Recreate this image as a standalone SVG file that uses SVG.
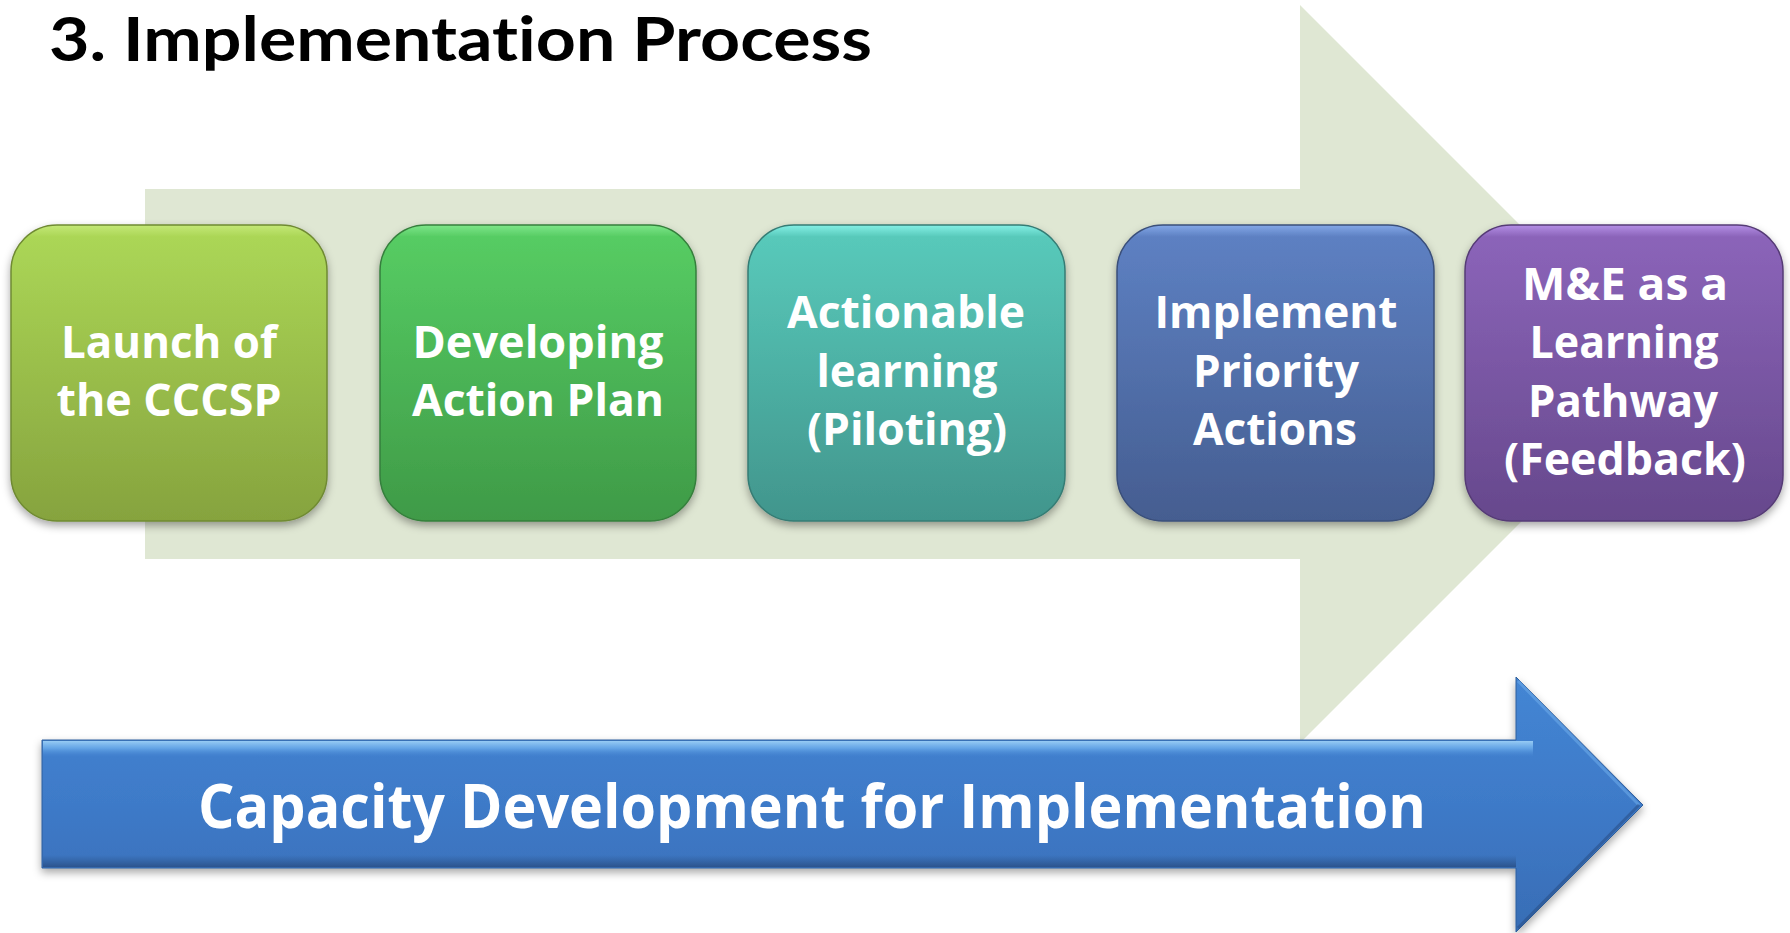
<svg xmlns="http://www.w3.org/2000/svg" width="1790" height="933" viewBox="0 0 1790 933">
<style>
.title{font-family:Lato,"Open Sans","Liberation Sans",sans-serif;font-weight:700;font-size:61px;fill:#000;font-variant-ligatures:none;font-feature-settings:"liga" 0,"dlig" 0}
.lbl{font-family:"Open Sans","Liberation Sans",sans-serif;font-weight:700;font-size:44px;fill:#fff;text-anchor:middle}
.big{font-family:"Open Sans","Liberation Sans",sans-serif;font-weight:700;font-size:60px;fill:#fff;text-anchor:middle}
.box{stroke-width:1.5}
</style>
<defs>
<filter id="sh" x="-10%" y="-10%" width="120%" height="125%">
<feDropShadow dx="0" dy="4" stdDeviation="4" flood-color="#000" flood-opacity="0.35"/>
</filter>
<linearGradient id="g1" x1="0" y1="0" x2="0" y2="1">
<stop offset="0" stop-color="#c4e877"/><stop offset="0.04" stop-color="#abd656"/><stop offset="1" stop-color="#86a33e"/>
</linearGradient>
<linearGradient id="g2" x1="0" y1="0" x2="0" y2="1">
<stop offset="0" stop-color="#7ee68a"/><stop offset="0.04" stop-color="#56cc63"/><stop offset="1" stop-color="#3f9a47"/>
</linearGradient>
<linearGradient id="g3" x1="0" y1="0" x2="0" y2="1">
<stop offset="0" stop-color="#84f0e6"/><stop offset="0.04" stop-color="#58c9ba"/><stop offset="1" stop-color="#41958c"/>
</linearGradient>
<linearGradient id="g4" x1="0" y1="0" x2="0" y2="1">
<stop offset="0" stop-color="#84a8e8"/><stop offset="0.04" stop-color="#5d80c2"/><stop offset="1" stop-color="#455d90"/>
</linearGradient>
<linearGradient id="g5" x1="0" y1="0" x2="0" y2="1">
<stop offset="0" stop-color="#b48ee6"/><stop offset="0.04" stop-color="#8b64b9"/><stop offset="1" stop-color="#66488c"/>
</linearGradient>
<linearGradient id="gb" gradientUnits="userSpaceOnUse" x1="0" y1="677" x2="0" y2="932">
<stop offset="0" stop-color="#4486d4"/><stop offset="0.5" stop-color="#3e7ac8"/><stop offset="1" stop-color="#386db5"/>
</linearGradient>
<linearGradient id="ghi" x1="0" y1="0" x2="0" y2="1">
<stop offset="0" stop-color="#9ccff6" stop-opacity="0.95"/><stop offset="0.45" stop-color="#6eaeec" stop-opacity="0.8"/><stop offset="1" stop-color="#4a8ad6" stop-opacity="0"/>
</linearGradient>
<linearGradient id="glo" x1="0" y1="0" x2="0" y2="1">
<stop offset="0" stop-color="#2d5690" stop-opacity="0"/><stop offset="1" stop-color="#2a5088" stop-opacity="0.9"/>
</linearGradient>
</defs>

<g id="background-arrow">
<path d="M145,189 H1300 V5 L1669,374 L1300,743 V559 H145 Z" fill="#dfe7d3"/>
</g>

<text class="title" x="49" y="61" textLength="823" lengthAdjust="spacingAndGlyphs">3. Implementation Process</text>

<g id="node-launch">
<rect class="box" x="11" y="225" width="316" height="296" rx="46" fill="url(#g1)" stroke="#6f8a33" filter="url(#sh)"/>
<text class="lbl" x="169" y="358" textLength="216" lengthAdjust="spacingAndGlyphs">Launch of</text>
<text class="lbl" x="169" y="416" textLength="225" lengthAdjust="spacingAndGlyphs">the CCCSP</text>
</g>

<g id="node-developing">
<rect class="box" x="380" y="225" width="316" height="296" rx="46" fill="url(#g2)" stroke="#357f3c" filter="url(#sh)"/>
<text class="lbl" x="538" y="358" textLength="251" lengthAdjust="spacingAndGlyphs">Developing</text>
<text class="lbl" x="538" y="416" textLength="252" lengthAdjust="spacingAndGlyphs">Action Plan</text>
</g>

<g id="node-actionable">
<rect class="box" x="748" y="225" width="317" height="296" rx="46" fill="url(#g3)" stroke="#357c74" filter="url(#sh)"/>
<text class="lbl" x="906" y="328" textLength="238" lengthAdjust="spacingAndGlyphs">Actionable</text>
<text class="lbl" x="907" y="387" textLength="181" lengthAdjust="spacingAndGlyphs">learning</text>
<text class="lbl" x="907" y="445" textLength="200" lengthAdjust="spacingAndGlyphs">(Piloting)</text>
</g>

<g id="node-implement">
<rect class="box" x="1117" y="225" width="317" height="296" rx="46" fill="url(#g4)" stroke="#3a4f7a" filter="url(#sh)"/>
<text class="lbl" x="1276" y="328" textLength="243" lengthAdjust="spacingAndGlyphs">Implement</text>
<text class="lbl" x="1276" y="387" textLength="166" lengthAdjust="spacingAndGlyphs">Priority</text>
<text class="lbl" x="1275" y="445" textLength="164" lengthAdjust="spacingAndGlyphs">Actions</text>
</g>

<g id="node-me">
<rect class="box" x="1465" y="225" width="318" height="296" rx="46" fill="url(#g5)" stroke="#553b75" filter="url(#sh)"/>
<text class="lbl" x="1625" y="300" textLength="206" lengthAdjust="spacingAndGlyphs">M&amp;E as a</text>
<text class="lbl" x="1624" y="358" textLength="189" lengthAdjust="spacingAndGlyphs">Learning</text>
<text class="lbl" x="1623" y="417" textLength="190" lengthAdjust="spacingAndGlyphs">Pathway</text>
<text class="lbl" x="1625" y="475" textLength="242" lengthAdjust="spacingAndGlyphs">(Feedback)</text>
</g>

<g id="capacity-arrow">
<path d="M42,740 H1516 V677 L1643,805 L1516,932 V868 H42 Z" fill="url(#gb)" stroke="#2f5e9c" stroke-width="1" filter="url(#sh)"/>
<rect x="43" y="741" width="1490" height="16" fill="url(#ghi)"/>
<rect x="43" y="855" width="1473" height="12" fill="url(#glo)"/>
<path d="M1518,681 L1639,805" stroke="#6aa8e8" stroke-width="3" fill="none" opacity="0.6"/>
<path d="M1639,805 L1518,928" stroke="#2a5088" stroke-width="3" fill="none" opacity="0.6"/>
<text class="big" x="812" y="828" textLength="1228" lengthAdjust="spacingAndGlyphs">Capacity Development for Implementation</text>
</g>
</svg>
